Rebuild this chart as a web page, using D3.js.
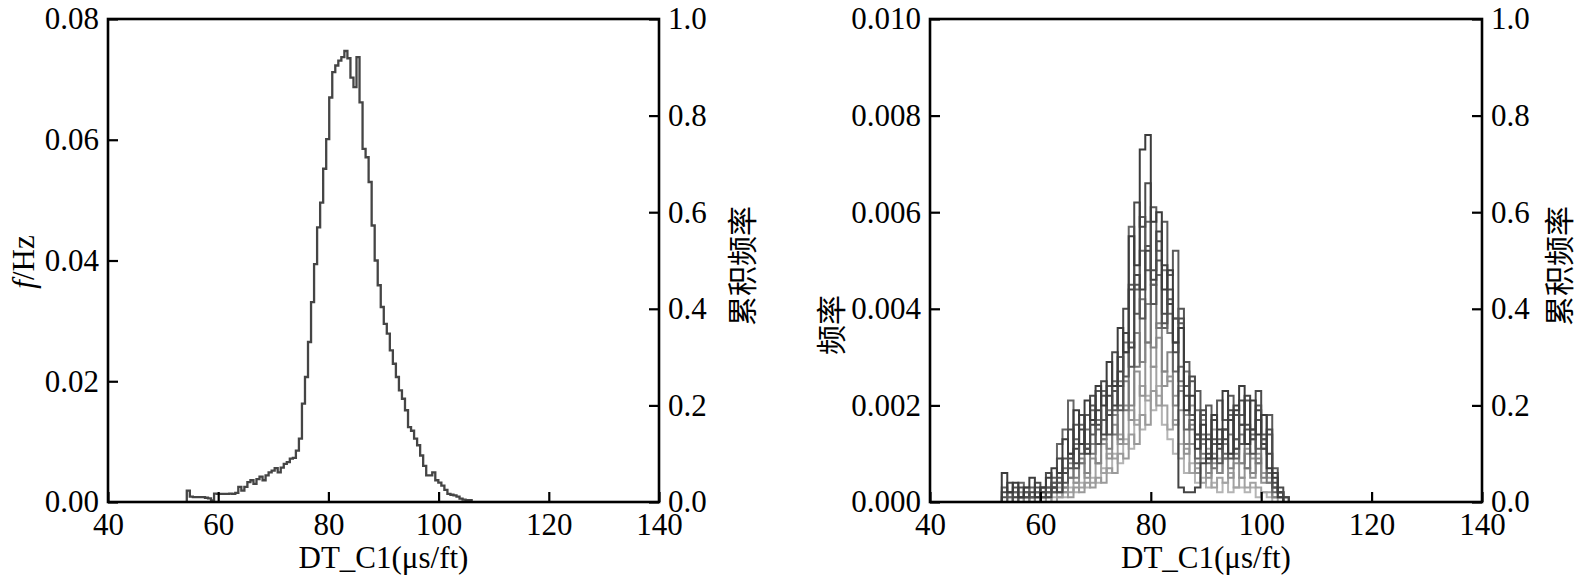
<!DOCTYPE html>
<meta charset="utf-8">
<style>
body { margin: 0; background: #fff; }
svg text { font-family: "Liberation Serif", "Times New Roman", serif; font-size: 31px; fill: #000; }
svg text.cjk { font-family: "Noto Sans CJK SC", sans-serif; font-size: 30px; }
.domain { display: none; }
.tick line { stroke: #000; stroke-width: 2.2; }
</style>
<body>
<svg width="1581" height="585"></svg>
<script src="https://d3js.org/d3.v7.min.js"></script>
<script>

// x ticks shared by both panels
var xTicks = [40, 60, 80, 100, 120, 140];
var leftFreqTicks = [0, 0.02, 0.04, 0.06, 0.08];
var rightFreqTicks = [0, 0.002, 0.004, 0.006, 0.008, 0.010];
var cumTicks = [0, 0.2, 0.4, 0.6, 0.8, 1.0];

// left panel: one histogram, bins start 54.3, width 0.55 (values x 0.001)
var leftStart = 54.3, leftWidth = 0.55;
var leftFreq = [1.9,0.9,0.8,0.8,0.8,0.8,0.7,0.6,0.25,1.4,
  1.35,1.35,1.35,1.35,1.4,1.35,1.5,2.5,1.9,2.5,
  3.3,3.6,3.0,3.8,4.2,3.6,4.4,4.9,5.2,5.6,
  4.9,5.7,6.3,6.6,7.2,7.3,8.5,10.5,16.3,20.7,
  26.5,33.1,39.4,45.5,49.6,55.2,60.1,67.0,71.2,72.3,
  73.1,73.7,74.7,73.5,70.3,68.7,73.7,66.2,58.5,57.1,
  53.0,45.8,40.0,35.9,32.3,29.5,27.9,25.1,22.9,20.7,
  18.5,17.1,15.2,12.4,11.8,10.5,9.4,7.7,6.0,4.4,
  4.4,4.9,3.6,3.2,2.7,2.0,1.35,1.2,1.1,0.9,
  0.55,0.4,0.3,0.3];

// right panel: many histograms, bins 53..105 width 1 (values x 0.0001)
var rightStart = 53, rightWidth = 1;
var rightS1 = [6,2,4,1,3,5,1,3,5,7, 6,13,10,19,12,21,17,24,20,29, 24,36,31,55,49,73,76,58,60,44, 48,33,36,19,22,11,16,9,18,12, 23,10,19,24,12,21,14,18,7,5, 1,0];
var rightS2 = [2,4,1,3,1,2,4,1,6,3, 9,6,15,8,18,11,22,16,25,18, 31,24,40,44,62,57,66,48,54,39, 44,31,38,22,26,14,19,10,17,11, 15,19,11,21,16,13,23,11,15,4, 3,0];
var rightS3 = [0,2,3,1,2,1,1,3,2,4, 4,9,7,16,10,18,14,23,17,24, 19,30,26,45,39,59,48,61,52,58, 47,52,37,29,18,23,13,20,12,21, 17,22,13,18,21,15,20,14,18,7, 2,0];
var rightS4 = [3,1,2,4,1,3,2,1,3,5, 12,15,21,13,16,12,19,15,23,18, 25,20,33,57,44,52,58,45,47,36, 39,27,28,15,17,9,14,8,12,13, 10,18,9,16,12,14,11,13,6,2, 1,0];
var rightS5 = [1,2,0,1,2,1,3,2,3,2, 5,4,10,7,18,11,20,12,22,14, 23,19,31,28,45,38,53,41,50,37, 42,38,40,24,25,13,18,9,13,8, 15,9,18,12,15,10,17,13,14,3, 2,1];
var rightS6 = [0,0,2,1,3,0,2,3,2,4, 2,7,5,12,8,15,10,17,13,19, 14,25,19,33,28,42,33,45,36,48, 35,38,25,27,15,19,10,14,7,12, 9,14,10,14,7,13,8,11,4,3, 2,0];
var rightS7 = [0,1,0,2,0,1,2,1,2,3, 4,3,8,5,9,6,12,8,13,11, 18,13,25,20,35,29,41,32,37,27, 31,20,23,12,16,8,12,6,10,6, 12,7,11,8,10,6,9,5,6,1, 1,0];
var rightS8 = [0,0,1,0,1,1,0,2,1,2, 3,2,5,4,8,5,9,8,12,9, 16,12,20,17,27,22,33,28,34,24, 26,16,19,10,12,6,9,5,8,6, 9,5,8,5,7,5,8,4,4,1, 1,0];
var rightS9 = [0,0,0,1,0,0,1,0,1,2, 1,3,2,4,3,6,4,8,6,10, 9,14,12,19,16,24,21,28,22,20, 15,17,9,11,6,7,4,6,3,5, 4,6,3,5,3,4,3,2,2,1, 0,0];
var rightS10 = [0,0,0,0,1,0,0,1,0,1, 2,1,3,2,4,3,5,4,7,6, 10,8,13,11,17,15,22,19,24,16, 13,10,12,6,8,4,5,3,4,2, 4,2,3,3,2,3,1,2,1,0, 0,0];
var rightS11 = [0,0,0,0,0,0,0,2,1,3, 2,6,9,11,15,10,16,19,14,22, 20,27,35,32,47,44,52,46,56,49, 41,33,3,2,2,3,8,13,9,15, 13,17,20,16,22,15,19,12,10,6, 2,1];
var rightS12 = [0,0,0,0,0,0,0,0,1,0, 1,2,1,3,2,4,3,5,4,7, 6,10,9,14,12,18,16,23,20,27, 25,22,24,18,20,14,17,11,15,9, 12,10,13,8,11,9,10,6,5,3, 2,1];
var rightGrays = ["#3c3c3c", "#4b4b4b", "#5a5a5a", "#666666", "#555555", "#777777",
  "#858585", "#939393", "#a2a2a2", "#b4b4b4", "#444444", "#9a9a9a"];

var svg = d3.select("svg");
var plotTop = 19, plotBottom = 502;

function stepPath(x, y, start, width, vals, k) {
  var pts = [[start, 0]];
  vals.forEach(function(v, i) { pts.push([start + i * width, v * k]); });
  var end = start + vals.length * width;
  pts.push([end, vals[vals.length - 1] * k]);
  pts.push([end, 0]);
  return d3.line()
      .x(function(d) { return x(d[0]); })
      .y(function(d) { return y(d[1]); })
      .curve(d3.curveStepAfter)(pts);
}

function panel(x0, x1, yMax, yTicks, yFmt, curves, cumX, yTitle) {
  var x = d3.scaleLinear().domain([40, 140]).range([x0, x1]);
  var y = d3.scaleLinear().domain([0, yMax]).range([plotBottom, plotTop]);
  var y2 = d3.scaleLinear().domain([0, 1]).range([plotBottom, plotTop]);
  var g = svg.append("g");

  curves.forEach(function(c) {
    g.append("path")
        .attr("d", stepPath(x, y, c.start, c.width, c.vals, c.k))
        .attr("fill", "none")
        .attr("stroke", c.color)
        .attr("stroke-width", c.sw);
  });

  g.append("g").attr("transform", "translate(0," + plotBottom + ")")
      .call(d3.axisBottom(x).tickValues(xTicks).tickSizeInner(-10).tickSizeOuter(0).tickPadding(11));
  g.append("g").attr("transform", "translate(" + x0 + ",0)")
      .call(d3.axisLeft(y).tickValues(yTicks).tickFormat(d3.format(yFmt)).tickSizeInner(-10).tickSizeOuter(0).tickPadding(9));
  g.append("g").attr("transform", "translate(" + x1 + ",0)")
      .call(d3.axisRight(y2).tickValues(cumTicks).tickFormat(d3.format(".1f")).tickSizeInner(-10).tickSizeOuter(0).tickPadding(9));
  g.selectAll(".tick text").attr("fill", "#000");

  g.append("rect")
      .attr("x", x0).attr("y", plotTop)
      .attr("width", x1 - x0).attr("height", plotBottom - plotTop)
      .attr("fill", "none").attr("stroke", "#000").attr("stroke-width", 2.6);

  g.append("text")
      .attr("x", (x0 + x1) / 2).attr("y", 568)
      .attr("text-anchor", "middle")
      .text("DT_C1(\u03bcs/ft)");

  g.append("text")
      .attr("class", "cjk")
      .attr("transform", "translate(" + cumX + ",266) rotate(-90)")
      .attr("text-anchor", "middle")
      .attr("dominant-baseline", "central")
      .text("累积频率");

  yTitle(g);
}

panel(108, 659, 0.08, leftFreqTicks, ".2f",
  [{start: leftStart, width: leftWidth, vals: leftFreq, k: 0.001, color: "#454545", sw: 2.3}],
  740,
  function(g) {
    var t = g.append("text")
        .attr("transform", "translate(23,262) rotate(-90)")
        .attr("text-anchor", "middle")
        .attr("dominant-baseline", "central");
    t.append("tspan").attr("font-style", "italic").text("f");
    t.append("tspan").text("/Hz");
  });

var rightAll = [rightS1, rightS2, rightS3, rightS4, rightS5, rightS6,
  rightS7, rightS8, rightS9, rightS10, rightS11, rightS12];
// light series first, dark ones on top, a few mixed in
var drawOrder = [9, 8, 11, 7, 6, 5, 3, 4, 2, 10, 1, 0];
var rightCurves = drawOrder.map(function(i) {
  return {start: rightStart, width: rightWidth, vals: rightAll[i], k: 0.0001, color: rightGrays[i], sw: 2};
});

panel(930, 1482, 0.010, rightFreqTicks, ".3f", rightCurves, 1557,
  function(g) {
    g.append("text")
        .attr("class", "cjk")
        .attr("transform", "translate(829,325) rotate(-90)")
        .attr("text-anchor", "middle")
        .attr("dominant-baseline", "central")
        .text("频率");
  });

</script>
